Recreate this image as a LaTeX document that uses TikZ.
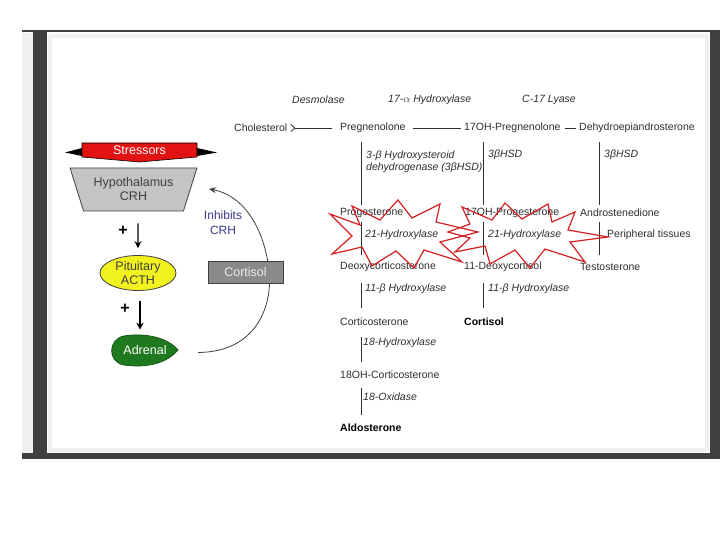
\documentclass[tikz,border=0pt]{standalone}
\usepackage{fontspec}
\setmainfont{Liberation Sans}
\usetikzlibrary{shapes.geometric,arrows.meta,positioning,calc}
\definecolor{framegray}{HTML}{404040}
\definecolor{txtgray}{HTML}{2E2E2E}
\definecolor{boxgray}{HTML}{8A8A8A}
\definecolor{hypogray}{HTML}{C4C4C4}
\definecolor{pityellow}{HTML}{F2F21E}
\definecolor{adrgreen}{HTML}{1F7A1F}
\definecolor{inhblue}{HTML}{3B3B8E}
\definecolor{stressred}{HTML}{E21212}
\definecolor{burstred}{HTML}{D42020}
\newcommand\pathfont{\fontsize{10.5}{12}\selectfont}
\newcommand\panelfont{\fontsize{12.5}{14}\selectfont}

\begin{document}
\begin{tikzpicture}[x=1pt,y=-1pt,
  cmpd/.style={font=\pathfont, text=txtgray, inner sep=0pt, anchor=west},
  enz/.style={cmpd, font=\pathfont\itshape},
  final/.style={cmpd, font=\pathfont\bfseries, text=black},
  link/.style={draw=txtgray, line width=0.8pt},
  burstline/.style={draw=burstred, line width=1.2pt, line join=miter},
  panel/.style={font=\panelfont, align=center, inner sep=0pt},
  updown/.style={-{Stealth[length=7pt,width=7pt]}, line width=1.2pt, black},
  plus/.style={font=\fontsize{16}{16}\selectfont\bfseries, inner sep=0pt}
]
\useasboundingbox (0,0) rectangle (720,540);
\fill[white] (0,0) rectangle (720,540);

% frame
\fill[gray!12] (22,33) rectangle (33,453);
\draw[gray!12, line width=4pt] (50,36) rectangle (707,450);
\fill[framegray] (22,30) rectangle (720,32.5);
\fill[framegray] (33,31) rectangle (47,459);
\fill[framegray] (22,453) rectangle (720,459);
\fill[framegray] (710,31) rectangle (720,459);

% pathway: compounds
\node[cmpd] (chol) at (234,128) {Cholesterol};
\node[cmpd] (preg) at (340,128) {Pregnenolone};
\node[cmpd] (ohpreg) at (464,128) {17OH-Pregnenolone};
\node[cmpd] (dhea) at (579,128) {Dehydroepiandrosterone};
\node[cmpd] (prog) at (340,213) {Progesterone};
\node[cmpd] (ohprog) at (465,213) {17OH-Progesterone};
\node[cmpd] (andro) at (580,213) {Androstenedione};
\node[cmpd] (periph) at (607,235) {Peripheral tissues};
\node[cmpd] (doc) at (340,267) {Deoxycorticosterone};
\node[cmpd] (deoxcort) at (464,267) {11-Deoxycortisol};
\node[cmpd] (testo) at (580,267) {Testosterone};
\node[cmpd] (cortico) at (340,322) {Corticosterone};
\node[final] (cortisol) at (464,322) {Cortisol};
\node[cmpd] (ohcortico) at (340,375) {18OH-Corticosterone};
\node[final] (aldo) at (340,428) {Aldosterone};

% pathway: enzymes
\node[enz] (desmo) at (292,100) {Desmolase};
\node[enz] (hyd17) at (388,100) {17-$\alpha$ Hydroxylase};
\node[enz] (lyase) at (522,100) {C-17 Lyase};
\node[enz, align=left] (hsdA) at (366,162) {3-β Hydroxysteroid\\dehydrogenase (3βHSD)};
\node[enz] (hsdB) at (488,155) {3βHSD};
\node[enz] (hsdC) at (604,155) {3βHSD};
\node[enz] (hyd21A) at (365,235) {21-Hydroxylase};
\node[enz] (hyd21B) at (488,235) {21-Hydroxylase};
\node[enz] (hyd11A) at (365,289) {11-β Hydroxylase};
\node[enz] (hyd11B) at (488,289) {11-β Hydroxylase};
\node[enz] (hyd18) at (363,343) {18-Hydroxylase};
\node[enz] (oxid18) at (363,397) {18-Oxidase};

% pathway: links
\draw[link, {Straight Barb[reversed,length=4pt,width=7pt]}-] ([xshift=3pt]chol.east) -- ([xshift=-8pt]preg.west);
\draw[link] ([xshift=7pt]preg.east) -- ([xshift=-3pt]ohpreg.west);
\draw[link] ([xshift=4pt]ohpreg.east) -- ([xshift=-3pt]dhea.west);
\draw[link] ([shift={(21,14)}]preg.west) -- ([shift={(21,-8)}]prog.west);
\draw[link] ([shift={(18,14)}]ohprog.west |- ohpreg.west) -- ([shift={(18,-8)}]ohprog.west);
\draw[link] ([shift={(19,14)}]andro.west |- dhea.west) -- ([shift={(19,-8)}]andro.west);
\draw[link] ([shift={(21,9)}]prog.west) -- ([shift={(21,-12)}]doc.west);
\draw[link] ([shift={(18,9)}]ohprog.west) -- ([shift={(19,-12)}]deoxcort.west);
\draw[link] ([shift={(19,9)}]andro.west) -- ([shift={(19,-12)}]testo.west);
\draw[link] ([shift={(21,16)}]doc.west) -- ([shift={(21,-14)}]cortico.west);
\draw[link] ([shift={(19,16)}]deoxcort.west) -- ([shift={(19,-14)}]cortisol.west);
\draw[link] ([shift={(21,15)}]cortico.west) -- ([shift={(21,-13)}]ohcortico.west);
\draw[link] ([shift={(21,13)}]ohcortico.west) -- ([shift={(21,-13)}]aldo.west);

% 21-hydroxylase blocks
\draw[burstline] (330,214) -- (360,225) -- (352,206) -- (380,220) -- (398,200)
  -- (412,218) -- (440,204) -- (436,222) -- (478,232) -- (440,242) -- (462,262)
  -- (424,250) -- (414,268) -- (396,251) -- (372,266) -- (362,247) -- (332,254)
  -- (352,236) -- cycle;
\draw[burstline] (448,232) -- (470,224) -- (462,207) -- (492,220) -- (505,203)
  -- (522,219) -- (548,204) -- (552,222) -- (575,212) -- (568,230) -- (608,237)
  -- (570,242) -- (585,262) -- (545,249) -- (530,268) -- (515,250) -- (490,264)
  -- (485,246) -- (455,252) -- (470,238) -- cycle;

% left panel
\fill[black] (82,148) -- (65,152.5) -- (82,156) -- cycle;
\fill[black] (197,148) -- (217,152.5) -- (197,156) -- cycle;
\draw[black, fill=stressred, line width=0.6pt] (82,143) -- (197,143) -- (197,157) -- (139.5,162) -- (82,157) -- cycle;
\node[panel, text=white] (stress) at (139.5,150.5) {Stressors};

\node[trapezium, trapezium stretches=true, shape border rotate=180,
      trapezium left angle=65, trapezium right angle=65,
      minimum width=127pt, minimum height=43pt, draw=framegray, fill=hypogray,
      line width=0.8pt, panel, text=framegray] (hypo) at (133.5,189.5)
      {Hypothalamus\\CRH};

\node[plus] (plusA) at (123,231) {+};
\node[ellipse, draw=framegray, fill=pityellow, line width=0.8pt,
      minimum width=76pt, minimum height=35pt, panel, text=framegray] (pit) at (138,273)
      {Pituitary\\ACTH};
\draw[updown] ([shift={(4.5,12)}]hypo.south) -- ([yshift=7pt]pit.north);

\node[plus] (plusB) at (125,309) {+};
\fill[adrgreen, draw=adrgreen!70!black, line width=0.8pt]
  (178,350) .. controls (166,336) and (142,333) .. (124,336)
  .. controls (108,339) and (107,362) .. (124,365)
  .. controls (146,368) and (166,364) .. (178,350) -- cycle;
\node[panel, text=white, minimum width=64pt] (adrenal) at (145,350.5) {Adrenal};
\draw[updown] ([shift={(2,10)}]pit.south) -- ([shift={(-5,-16)}]adrenal.north);

% feedback loop
\coordinate (loopturn) at (268,263);
\coordinate (loopend) at (209,189);
\draw[-{Stealth[length=7pt,width=6pt]}, framegray, line width=0.8pt]
  ([xshift=21pt,yshift=-2pt]adrenal.east) .. controls (260,352) and (275,300) .. (loopturn)
  .. controls (262,225) and (242,195) .. (loopend);
\node[panel, text=inhblue, font=\fontsize{12}{15}\selectfont] (inhib) at (223,223) {Inhibits\\CRH};
\node[rectangle, draw=framegray, fill=boxgray, line width=0.8pt,
      minimum width=75pt, minimum height=22pt, panel, text=gray!15] (cortbox) at (245.5,272)
      {Cortisol};
\end{tikzpicture}
\end{document}
